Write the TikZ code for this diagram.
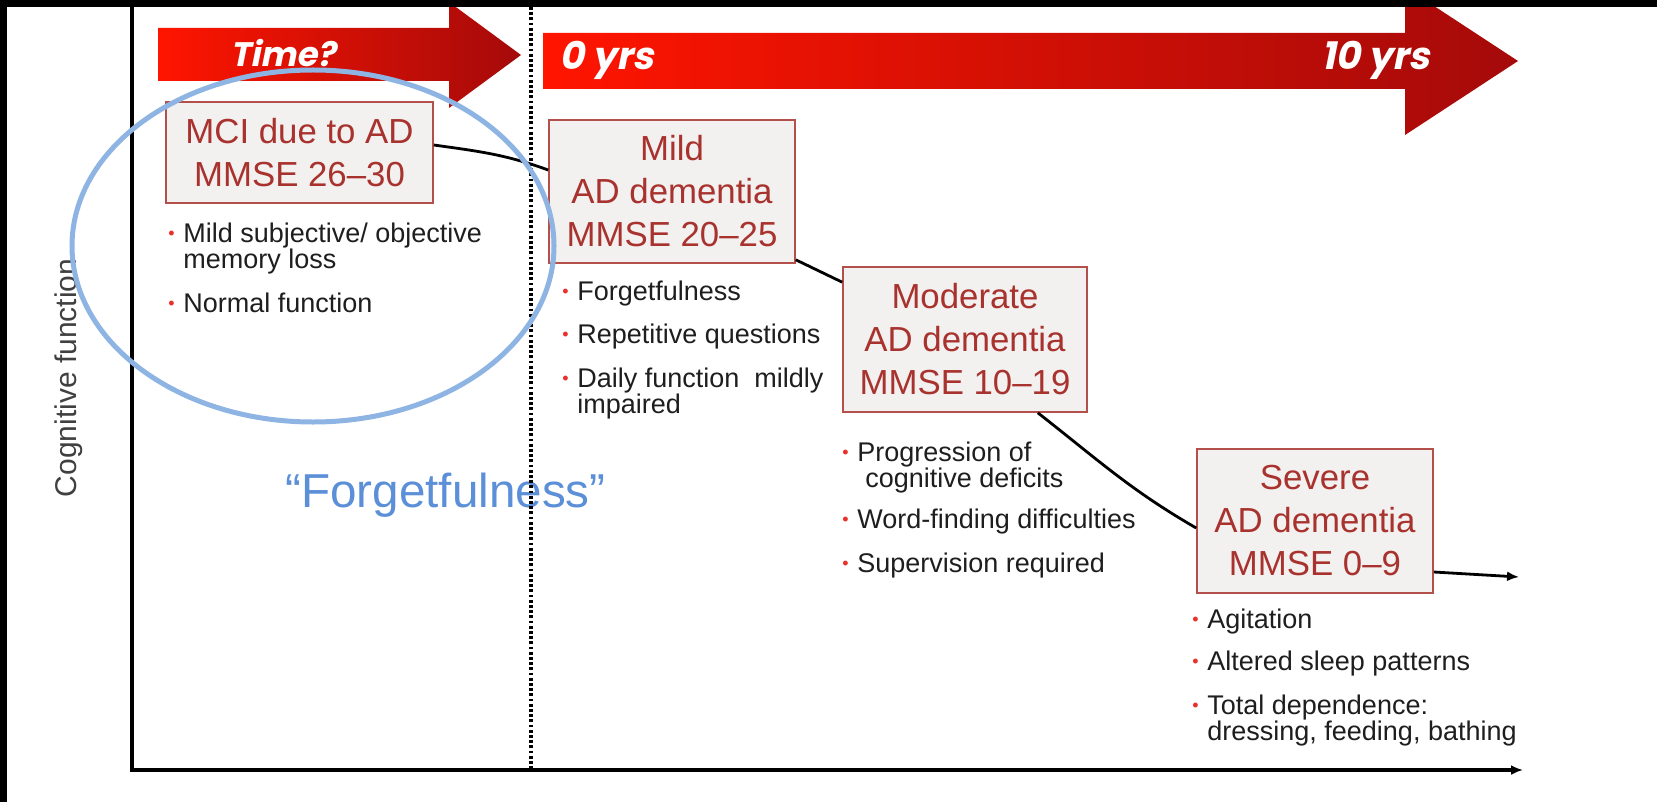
\documentclass[tikz,border=0pt]{standalone}
\usepackage{fontspec}
\setmainfont{Liberation Sans}
\newfontfamily\yrsfont[FakeSlant=0.2]{Poppins}
\usepackage{tikz}
\usetikzlibrary{calc,positioning}
\usetikzlibrary{arrows.meta}
\tikzset{>={Latex[length=6pt,width=5pt]}}

\definecolor{arrowred}{HTML}{FF1500}
\definecolor{arrowdark}{HTML}{A50A0A}
\definecolor{boxedge}{HTML}{B4504B}
\definecolor{boxfill}{HTML}{F3F0F0}
\definecolor{stagetext}{HTML}{A8322D}
\definecolor{bulletred}{HTML}{E8312A}
\definecolor{bodytext}{HTML}{1E1E1E}
\definecolor{ringblue}{HTML}{8DB4E2}
\definecolor{quoteblue}{HTML}{5B8FD8}

% red bullet and the indent of a wrapped line
\newcommand{\bul}{\makebox[7.5pt][l]{\raisebox{1.3pt}{\fontsize{9}{9}\selectfont\color{bulletred}\textbullet}}}
\newcommand{\bulgap}{\hspace*{7.5pt}}

\begin{document}
\begin{tikzpicture}[x=0.5pt,y=-0.5pt]
          \tikzstyle{stagebox} = [draw=boxedge, fill=boxfill, line width=0.8pt, text=stagetext, align=center, inner sep=0pt, font=\fontsize{17.4}{21.5}\selectfont]
          \tikzstyle{bullets} = [anchor=base west, align=left, inner sep=0pt, text=bodytext, font=\fontsize{13.5}{13}\selectfont]
          \tikzstyle{yrs} = [inner sep=0pt, text=white, font=\yrsfont\bfseries\fontsize{19}{19}\selectfont]
          \tikzstyle{trend} = [line width=1.4pt, black]

          \useasboundingbox (0,0) rectangle (1657,802);
          \fill[white] (0,0) rectangle (1657,802);

          % time arrows
          \shade[left color=arrowred, middle color=arrowred, right color=arrowdark]
            (158,28) -- (449,28) -- (449,2) -- (521,55) -- (449,108) -- (449,81) -- (158,81) -- cycle;
          \shade[left color=arrowred, middle color=arrowred, right color=arrowdark]
            (543,33) -- (1405,33) -- (1405,-13) -- (1518,61) -- (1405,135) -- (1405,89) -- (543,89) -- cycle;
          \node[yrs, anchor=base, font=\yrsfont\bfseries\fontsize{17}{17}\selectfont] (timelbl) at (283,67) {Time?};
          \node[yrs, anchor=base west] (startlbl) at (559,70) {0 yrs};
          \node[yrs, anchor=base east] (endlbl) at (1430,70) {10 yrs};

          % axes
          \coordinate (ytop) at (132,7);
          \coordinate (origin) at (132,770);
          \coordinate (xend) at (1523,770);
          \draw[line width=1.6pt, ->] (ytop)--(origin)--(xend);
          \node[rotate=90, text=bodytext!85, font=\fontsize{15}{15}\selectfont] (ylabel) at (69,378) {Cognitive function};

          \node[text=quoteblue, anchor=base west, inner sep=0pt, font=\fontsize{23.8}{24}\selectfont] (quote) at (285,507) {``Forgetfulness''};

          \coordinate (dtop) at (531,7);
          \coordinate (dbot) at (531,770);
          \draw[line width=1.7pt, dash pattern=on 1.4pt off 1.2pt] (dtop)--(dbot);

          % stages
          \node[stagebox, minimum width=133.5pt, minimum height=50.5pt] (mci) at (299.5,152.5) {MCI due to AD\\MMSE 26--30};
          \node[stagebox, minimum width=123pt, minimum height=71.5pt] (mild) at (672,191.5) {Mild\\AD dementia\\MMSE 20--25};
          \node[stagebox, minimum width=122pt, minimum height=72.5pt] (moderate) at (965,339.5) {Moderate\\AD dementia\\MMSE 10--19};
          \node[stagebox, minimum width=118pt, minimum height=72pt] (severe) at (1315,521) {Severe\\AD dementia\\MMSE 0--9};
          \coordinate (trendend) at (1519,577);

          \draw[trend] ([yshift=3.75pt]mci.east) to[out=-8, in=160] ([yshift=10.75pt]mild.west);
          \draw[trend] ([yshift=2pt]mild.south east) -- ([yshift=-8pt]moderate.north west);
          \draw[trend] ([xshift=-25pt]moderate.south east) to[out=-38, in=150] ([yshift=-3.5pt]severe.west);
          \draw[trend, ->] ([yshift=-25.5pt]severe.east) -- (trendend);

          % symptoms, placed by the baseline of their last line
          \node[bullets] (mcisym) at (168,312) {\bul Mild subjective/ objective\\ \bulgap memory loss\\[9pt] \bul Normal function};
          \node[bullets] (mildsym) at (562,413) {\bul Forgetfulness\\[8.5pt] \bul Repetitive questions\\[9pt] \bul Daily function~ mildly\\ \bulgap impaired};
          \node[bullets] (modsym) at (842,572) {\bul Progression of\\ \bulgap\hspace*{4pt}cognitive deficits\\[7.5pt] \bul Word-finding difficulties\\[9pt] \bul Supervision required};
          \node[bullets] (sevsym) at (1192,740) {\bul Agitation\\[8pt] \bul Altered sleep patterns\\[9pt] \bul Total dependence:\\ \bulgap dressing, feeding, bathing};

          \draw[ringblue, line width=2.5pt] (313,246) ellipse [x radius=120.5pt, y radius=88pt];

          \fill[black] (0,0) rectangle (1657,7);
          \fill[black] (0,0) rectangle (7,802);
        \end{tikzpicture}
\end{document}
